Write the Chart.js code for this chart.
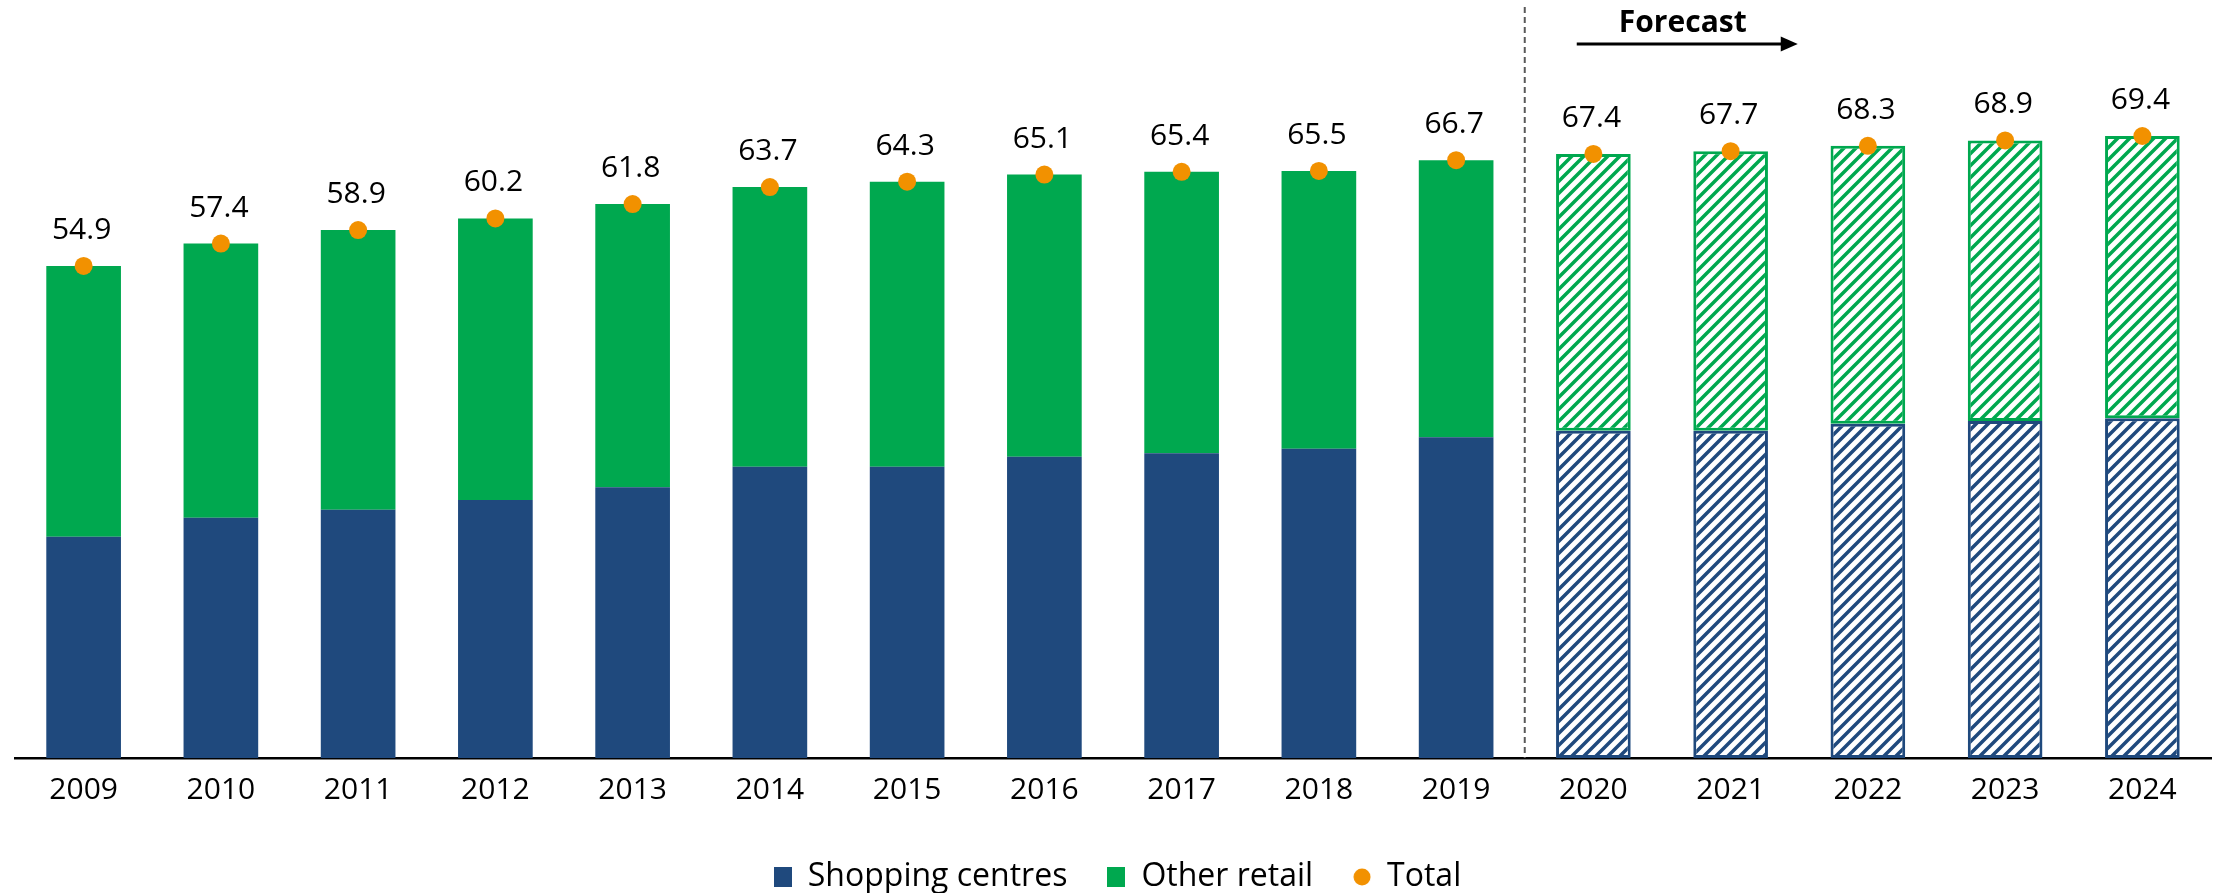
<!DOCTYPE html>
<html>
<head>
<meta charset="utf-8">
<script src="https://cdn.jsdelivr.net/npm/chart.js@4.4.0/dist/chart.umd.min.js"></script>
<style>
  html, body { margin: 0; padding: 0; background: #fff; }
  #wrap { width: 2220px; height: 893px; }
</style>
</head>
<body>
<div id="wrap"><canvas id="myChart" width="2220" height="893"></canvas></div>
<script>
const years = ['2009', '2010', '2011', '2012', '2013', '2014', '2015', '2016',
  '2017', '2018', '2019', '2020', '2021', '2022', '2023', '2024']
const shoppingCentres = [24.7, 26.8, 27.7, 28.8, 30.2, 32.5, 32.5, 33.6,
  34.0, 34.5, 35.8, 36.5, 36.5, 37.3, 37.6, 37.9]
const otherRetail = [30.2, 30.6, 31.2, 31.4, 31.6, 31.2, 31.8, 31.5,
  31.4, 31.0, 30.9, 30.9, 31.2, 31.0, 31.3, 31.5]
const totals = [54.9, 57.4, 58.9, 60.2, 61.8, 63.7, 64.3, 65.1,
  65.4, 65.5, 66.7, 67.4, 67.7, 68.3, 68.9, 69.4]
const firstForecast = 11 // 2020 onwards is forecast

const BLUE = '#1F497D'
const GREEN = '#00A84F'
const ORANGE = '#F29100'
const FONT = "'Open Sans', sans-serif"

const ctx = document.getElementById('myChart').getContext('2d')

// diagonal hatch used for the forecast bars
function hatch(color) {
  const s = 12
  const c = document.createElement('canvas')
  c.width = s
  c.height = s
  const g = c.getContext('2d')
  g.fillStyle = '#fff'
  g.fillRect(0, 0, s, s)
  g.strokeStyle = color
  g.lineWidth = 3.5
  g.beginPath()
  g.moveTo(-s / 2, s / 2); g.lineTo(s / 2, -s / 2)
  g.moveTo(0, s); g.lineTo(s, 0)
  g.moveTo(s / 2, s * 1.5); g.lineTo(s * 1.5, s / 2)
  g.stroke()
  return ctx.createPattern(c, 'repeat')
}

function legendBox(color) {
  const c = document.createElement('canvas')
  c.width = 18
  c.height = 20
  const g = c.getContext('2d')
  g.fillStyle = color
  g.fillRect(0, 0, 18, 20)
  return c
}

function legendDot(color) {
  const c = document.createElement('canvas')
  c.width = 18
  c.height = 18
  const g = c.getContext('2d')
  g.fillStyle = color
  g.beginPath()
  g.arc(9, 9, 8.5, 0, Math.PI * 2)
  g.fill()
  return c
}

const isForecast = (i) => i >= firstForecast
const blueHatch = hatch(BLUE)
const greenHatch = hatch(GREEN)

const totalLabels = {
  id: 'totalLabels',
  afterDatasetsDraw(chart) {
    const meta = chart.getDatasetMeta(0)
    const c = chart.ctx
    c.save()
    c.font = `30px ${FONT}`
    c.fillStyle = '#000'
    c.textAlign = 'center'
    c.textBaseline = 'alphabetic'
    meta.data.forEach((pt, i) => {
      c.fillText(totals[i].toFixed(1), pt.x - 2, pt.y - 27)
    })
    c.restore()
  }
}

const forecastMarker = {
  id: 'forecastMarker',
  afterDatasetsDraw(chart) {
    const {ctx: c, scales: {x}, chartArea} = chart
    const xLine = (x.getPixelForValue(firstForecast - 1) + x.getPixelForValue(firstForecast)) / 2
    c.save()
    c.strokeStyle = '#595959'
    c.lineWidth = 2
    c.setLineDash([6, 4])
    c.beginPath()
    c.moveTo(xLine, 7)
    c.lineTo(xLine, chartArea.bottom)
    c.stroke()
    c.setLineDash([])

    // arrow
    const y = 44
    c.strokeStyle = '#000'
    c.fillStyle = '#000'
    c.lineWidth = 3
    c.beginPath()
    c.moveTo(xLine + 52, y)
    c.lineTo(xLine + 258, y)
    c.stroke()
    c.beginPath()
    c.moveTo(xLine + 273, y)
    c.lineTo(xLine + 256, y - 7.5)
    c.lineTo(xLine + 256, y + 7.5)
    c.closePath()
    c.fill()

    c.font = `bold 30px ${FONT}`
    c.textAlign = 'center'
    c.textBaseline = 'alphabetic'
    c.fillText('Forecast', xLine + 158, 32)
    c.restore()
  }
}

new Chart(ctx, {
  type: 'bar',
  data: {
    labels: years,
    datasets: [
      {
        type: 'line',
        label: 'Total',
        data: totals,
        stack: 'total',
        showLine: false,
        pointRadius: 9,
        pointBorderWidth: 0,
        pointBackgroundColor: ORANGE,
        pointBorderColor: ORANGE,
      },
      {
        label: 'Shopping centres',
        data: shoppingCentres,
        stack: 'bars',
        backgroundColor: years.map((y, i) => (isForecast(i) ? blueHatch : BLUE)),
        borderColor: BLUE,
        borderWidth: years.map((y, i) => (isForecast(i) ? 3 : 0)),
        borderSkipped: false,
      },
      {
        label: 'Other retail',
        data: otherRetail,
        stack: 'bars',
        backgroundColor: years.map((y, i) => (isForecast(i) ? greenHatch : GREEN)),
        borderColor: GREEN,
        borderWidth: years.map((y, i) => (isForecast(i) ? 3 : 0)),
        borderSkipped: false,
      },
    ],
  },
  options: {
    responsive: false,
    animation: false,
    layout: {padding: {left: 15, right: 0, top: 41, bottom: -10}},
    datasets: {
      bar: {categoryPercentage: 1, barPercentage: 0.544},
    },
    scales: {
      x: {
        stacked: true,
        grid: {display: false, drawTicks: false},
        border: {display: true, color: '#000', width: 2.5},
        ticks: {color: '#000', padding: 14, font: {family: FONT, size: 30}},
        afterFit: (scale) => { scale.height -= 1 },
      },
      y: {
        stacked: true,
        display: false,
        min: 0,
        max: 80,
      },
    },
    plugins: {
      tooltip: {enabled: false},
      legend: {
        position: 'bottom',
        labels: {
          usePointStyle: true,
          boxWidth: 18,
          boxHeight: 20,
          padding: 40,
          color: '#000',
          font: {family: FONT, size: 32},
          generateLabels: () => [
            {text: 'Shopping centres', pointStyle: legendBox(BLUE), fillStyle: BLUE, strokeStyle: BLUE, lineWidth: 0, hidden: false, datasetIndex: 1},
            {text: 'Other retail', pointStyle: legendBox(GREEN), fillStyle: GREEN, strokeStyle: GREEN, lineWidth: 0, hidden: false, datasetIndex: 2},
            {text: 'Total', pointStyle: legendDot(ORANGE), fillStyle: ORANGE, strokeStyle: ORANGE, lineWidth: 0, hidden: false, datasetIndex: 0},
          ],
        },
      },
    },
  },
  plugins: [totalLabels, forecastMarker],
})
</script>
</body>
</html>
